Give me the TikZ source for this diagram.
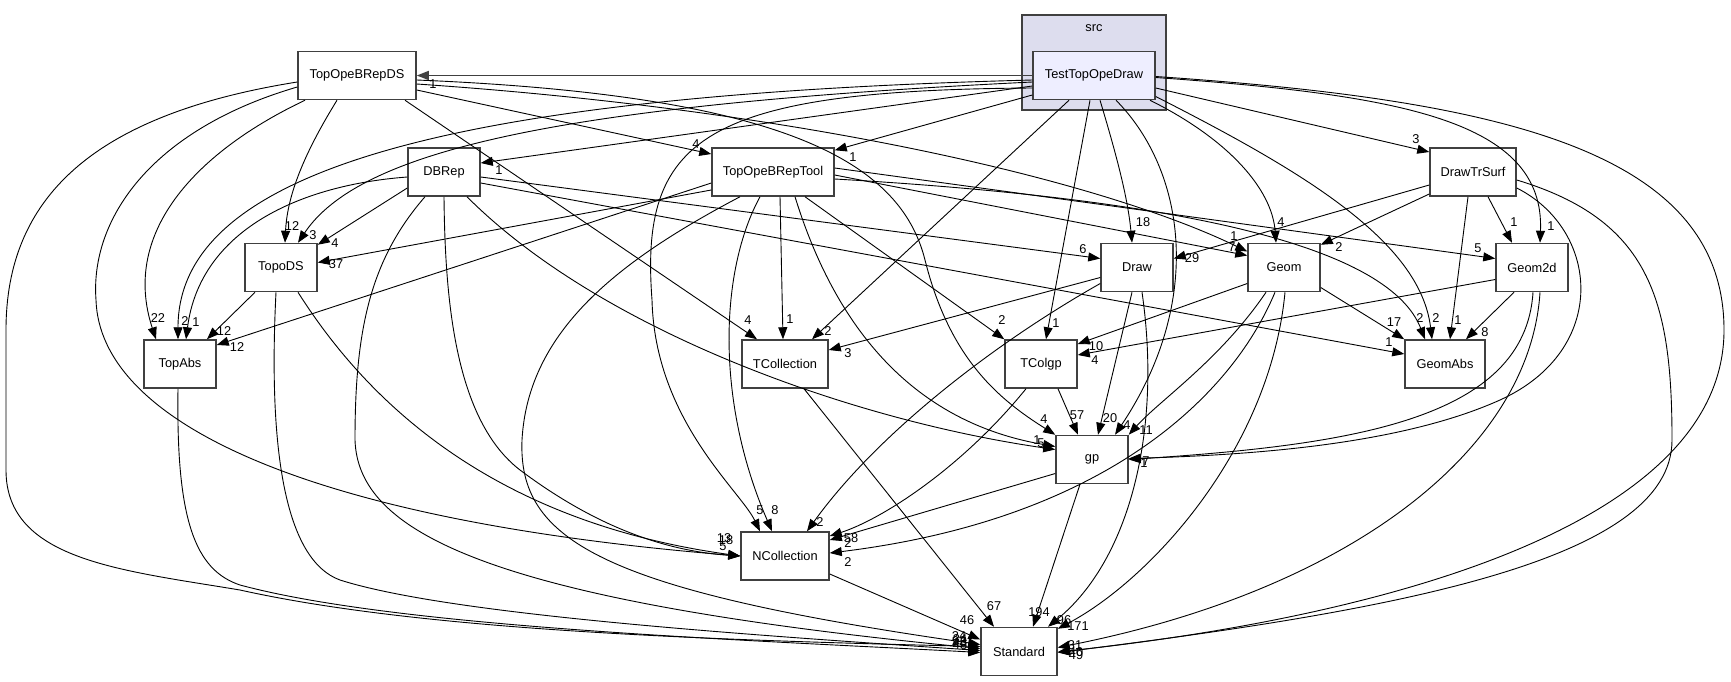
\documentclass[tikz,border=0pt]{standalone}
\usepackage{fontspec}
\setmainfont{Liberation Sans}
\usetikzlibrary{arrows.meta}
\definecolor{boxLine}{HTML}{404040}
\definecolor{clusterFill}{HTML}{DDDDEE}
\definecolor{dirFill}{HTML}{EEEEFF}

\begin{document}
\begin{tikzpicture}
[x=1pt,y=-1pt,%
  dirNode/.style={shape=rectangle,draw=boxLine,line width=1.5pt,fill=white,minimum width=72pt,minimum height=48pt,inner sep=2pt,font=\fontsize{12.8}{14}\selectfont},%
  depEdge/.style={-{Triangle[length=12pt,width=9pt]},line width=0.9pt},%
  edgeLabel/.style={inner sep=0pt,font=\fontsize{12.8}{14}\selectfont}]
\path[fill=white] (0,0) rectangle (1731,681);
\useasboundingbox (0,0) rectangle (1731,681);
%% cluster
\node[draw=boxLine,line width=1.5pt,fill=clusterFill,minimum width=144pt,minimum height=95pt] (srcBox) at (1094,62.5) {};
\node[edgeLabel] (srcLabel) at (1094,28) {src};
%% nodes
\node[dirNode,fill=dirFill,minimum width=122pt] (T) at (1094,75.5) {TestTopOpeDraw};
\node[dirNode,minimum width=118pt] (DS) at (357,75.5) {TopOpeBRepDS};
\node[dirNode] (DBRep) at (444,172) {DBRep};
\node[dirNode,minimum width=122pt] (Tool) at (773,172) {TopOpeBRepTool};
\node[dirNode,minimum width=86pt] (DTS) at (1473,172) {DrawTrSurf};
\node[dirNode] (TDS) at (281,267.5) {TopoDS};
\node[dirNode] (Draw) at (1137,267.5) {Draw};
\node[dirNode] (Geom) at (1284,267.5) {Geom};
\node[dirNode] (G2d) at (1532,267.5) {Geom2d};
\node[dirNode] (TA) at (180,364) {TopAbs};
\node[dirNode,minimum width=86pt] (TCol) at (785,364) {TCollection};
\node[dirNode] (TCgp) at (1041,364) {TColgp};
\node[dirNode,minimum width=80pt] (GA) at (1445,364) {GeomAbs};
\node[dirNode] (gp) at (1092,459.5) {gp};
\node[dirNode,minimum width=88pt] (NCol) at (785,556) {NCollection};
\node[dirNode,minimum width=76pt] (Std) at (1019,651.5) {Standard};
%% edges from TestTopOpeDraw
\draw[depEdge,draw=boxLine,line width=1.6pt] (T.west) -- (DS.east);
\draw[depEdge] ([yshift=-10.5pt]T.west) -- ([yshift=9pt]DBRep.east);
\draw[depEdge] ([yshift=-19.5pt]T.west) -- ([yshift=-3pt]Tool.north east);
\draw[depEdge] ([yshift=-12.5pt]T.east) -- ([yshift=20pt]DTS.west);
\draw[depEdge] ([yshift=-6.5pt]T.west) .. controls (560,105) and (360,150) .. ([xshift=17pt]TDS.north);
\draw[depEdge] ([yshift=-4.5pt]T.west) .. controls (450,95) and (178,170) .. ([xshift=-2pt]TA.north);
\draw[depEdge] ([yshift=-12.5pt]T.west) .. controls (700,90) and (640,140) .. (652,300) .. controls (655,420) and (740,490) .. ([xshift=-25pt]NCol.north);
\draw[depEdge] ([xshift=-25pt]T.south) -- ([xshift=27pt]TCol.north);
\draw[depEdge] ([xshift=-4pt]T.south) -- ([xshift=5pt]TCgp.north);
\draw[depEdge] ([xshift=6pt]T.south) .. controls (1118,160) and (1128,200) .. ([xshift=-5pt]Draw.north);
\draw[depEdge] ([xshift=22pt]T.south) .. controls (1185,170) and (1205,300) .. ([xshift=23pt]gp.north);
\draw[depEdge] ([xshift=56pt]T.south) .. controls (1230,140) and (1272,190) .. ([xshift=-8pt]Geom.north);
\draw[depEdge] ([yshift=-21pt]T.east) .. controls (1300,170) and (1420,240) .. ([xshift=-13pt]GA.north);
\draw[depEdge] ([yshift=-2pt]T.east) .. controls (1400,95) and (1545,120) .. ([xshift=8pt]G2d.north);
\draw[depEdge] ([yshift=-1pt]T.east) .. controls (1500,100) and (1724,150) .. (1724,330) .. controls (1724,520) and (1400,615) .. ([yshift=-0.5pt]Std.east);
%% edges from TopOpeBRepDS
\draw[depEdge] ([xshift=-20pt]DS.south) .. controls (300,160) and (287,200) .. ([xshift=4pt]TDS.north);
\draw[depEdge] ([xshift=-52pt]DS.south) .. controls (200,150) and (120,230) .. ([xshift=-24pt]TA.north);
\draw[depEdge] ([yshift=-11.5pt]DS.west) .. controls (150,130) and (90,220) .. (96,300) .. controls (100,420) and (300,520) .. (NCol.west);
\draw[depEdge] ([yshift=-6.5pt]DS.west) .. controls (90,115) and (6,200) .. (6,330) -- (6,470) .. controls (6,560) and (120,570) .. (240,590) .. controls (420,630) and (700,640) .. ([yshift=5pt]Std.west);
\draw[depEdge] ([yshift=-14.5pt]DS.east) -- ([yshift=18pt]Tool.west);
\draw[depEdge] ([xshift=48pt]DS.south) -- ([xshift=-28pt]TCol.north);
\draw[depEdge] ([yshift=-4.5pt]DS.east) .. controls (780,95) and (900,160) .. (925,260) .. controls (950,360) and (1000,400) .. (gp.north west);
\draw[depEdge] ([yshift=-8.5pt]DS.east) .. controls (800,110) and (1100,180) .. ([yshift=16pt]Geom.west);
%% edges from DBRep
\draw[depEdge] ([yshift=-16pt]DBRep.west) -- ([yshift=-2pt]TDS.north east);
\draw[depEdge] ([yshift=-5pt]DBRep.west) .. controls (300,185) and (200,230) .. ([xshift=6pt]TA.north);
\draw[depEdge] (DBRep.south) .. controls (445,300) and (455,420) .. (520,470) .. controls (580,515) and (650,550) .. (NCol.west);
\draw[depEdge] ([xshift=-19pt]DBRep.south) .. controls (370,260) and (355,330) .. (355,440) .. controls (358,530) and (480,600) .. ([yshift=3pt]Std.west);
\draw[depEdge] ([xshift=23pt]DBRep.south) .. controls (600,330) and (850,420) .. ([yshift=10pt]gp.west);
\draw[depEdge] ([yshift=-5pt]DBRep.east) -- ([yshift=9pt]Draw.west);
\draw[depEdge] ([yshift=-11pt]DBRep.east) -- ([yshift=10pt]GA.west);
%% edges from TopOpeBRepTool
\draw[depEdge] ([yshift=-18pt]Tool.west) -- ([yshift=5pt]TDS.east);
\draw[depEdge] ([yshift=-11pt]Tool.west) -- ([yshift=19pt]TA.east);
\draw[depEdge] ([xshift=7pt]Tool.south) -- ([xshift=-2pt]TCol.north);
\draw[depEdge] ([xshift=-13pt]Tool.south) .. controls (720,270) and (715,400) .. ([xshift=-13pt]NCol.north);
\draw[depEdge] ([xshift=-33pt]Tool.south) .. controls (620,260) and (528,330) .. (522,440) .. controls (518,540) and (600,590) .. ([yshift=7pt]Std.west);
\draw[depEdge] ([xshift=22pt]Tool.south) .. controls (830,310) and (900,420) .. ([yshift=13pt]gp.west);
\draw[depEdge] ([xshift=32pt]Tool.south) -- (TCgp.north west);
\draw[depEdge] ([yshift=-3pt]Tool.east) -- ([yshift=12pt]Geom.west);
\draw[depEdge] ([yshift=4pt]Tool.east) -- ([yshift=9pt]G2d.west);
\draw[depEdge] ([yshift=-7pt]Tool.east) .. controls (1200,200) and (1390,250) .. ([xshift=-20pt]GA.north);
%% edges from DrawTrSurf
\draw[depEdge] ([yshift=-13pt]DTS.west) -- ([yshift=9pt]Draw.east);
\draw[depEdge] ([yshift=-22pt]DTS.west) -- ([yshift=-2pt]Geom.north east);
\draw[depEdge] ([xshift=15pt]DTS.south) -- ([xshift=-20pt]G2d.north);
\draw[depEdge] ([xshift=-5pt]DTS.south) -- ([xshift=5pt]GA.north);
\draw[depEdge] ([yshift=-16pt]DTS.east) .. controls (1600,230) and (1610,350) .. (1500,400) .. controls (1400,445) and (1250,455) .. ([yshift=1pt]gp.east);
\draw[depEdge] ([yshift=-8pt]DTS.east) .. controls (1650,220) and (1672,300) .. (1672,440) .. controls (1672,560) and (1400,610) .. ([yshift=-1pt]Std.east);
%% edges from TopoDS and TopAbs
\draw[depEdge] ([xshift=-26pt]TDS.south) -- ([xshift=27pt]TA.north);
\draw[depEdge] ([xshift=17pt]TDS.south) .. controls (360,390) and (480,520) .. (NCol.west);
\draw[depEdge] ([xshift=-5pt]TDS.south) .. controls (268,450) and (285,560) .. (340,580) .. controls (450,615) and (750,635) .. ([yshift=1pt]Std.west);
\draw[depEdge] ([xshift=-2pt]TA.south) .. controls (176,520) and (195,570) .. (240,585) .. controls (400,628) and (750,640) .. ([yshift=-1pt]Std.west);
%% edges from Draw
\draw[depEdge] ([yshift=-10pt]Draw.west) -- ([yshift=14pt]TCol.east);
\draw[depEdge] ([yshift=-16pt]Draw.west) .. controls (1000,340) and (880,430) .. ([xshift=22pt]NCol.north);
\draw[depEdge] ([xshift=-5pt]Draw.south) -- ([xshift=6pt]gp.north);
\draw[depEdge] ([xshift=5pt]Draw.south) .. controls (1162,430) and (1130,560) .. ([xshift=29pt]Std.north);
%% edges from Geom
\draw[depEdge] ([yshift=-16pt]Geom.west) -- ([yshift=20pt]TCgp.east);
\draw[depEdge] ([yshift=-20pt]Geom.east) -- (GA.north west);
\draw[depEdge] ([xshift=-18pt]Geom.south) .. controls (1220,360) and (1160,400) .. (gp.north east);
\draw[depEdge] ([xshift=-9pt]Geom.south) .. controls (1230,400) and (1100,520) .. ([yshift=3pt]NCol.east);
\draw[depEdge] ([xshift=1pt]Geom.south) .. controls (1270,450) and (1150,580) .. ([yshift=-2pt]Std.north east);
%% edges from Geom2d
\draw[depEdge] ([yshift=-12pt]G2d.west) -- ([yshift=9pt]TCgp.east);
\draw[depEdge] ([xshift=-18pt]G2d.south) -- ([xshift=21pt]GA.north);
\draw[depEdge] ([xshift=1pt]G2d.south) .. controls (1525,420) and (1350,445) .. (gp.east);
\draw[depEdge] ([xshift=8pt]G2d.south) .. controls (1530,450) and (1350,590) .. ([yshift=4pt]Std.east);
%% remaining edges
\draw[depEdge] ([xshift=19pt]TCol.south) -- ([xshift=-25pt]Std.north);
\draw[depEdge] ([xshift=17pt]TCgp.south) -- ([xshift=-14pt]gp.north);
\draw[depEdge] ([xshift=-15pt]TCgp.south) .. controls (960,470) and (880,520) .. ([yshift=20pt]NCol.east);
\draw[depEdge] ([yshift=-14pt]gp.west) -- ([yshift=16pt]NCol.east);
\draw[depEdge] ([xshift=-12pt]gp.south) -- ([xshift=14pt]Std.north);
\draw[depEdge] ([yshift=-18pt]NCol.east) -- ([yshift=12pt]Std.west);
%% edge labels
\foreach \txt/\x/\y [count=\i] in {
  1/433/84, 1/499/170, 1/853/157, 3/1416/139, 3/313/235, 2/185/321, 5/760/510,
  2/828/331, 1/1056/323, 18/1143/222, 4/1127/425, 4/1281/222, 2/1436/318,
  1/1551/226, 49/1076/655, 12/292/226, 22/158/318, 13/724/538, 24/959/636,
  4/696/144, 4/748/320, 4/1044/419, 1/1234/236, 4/335/243, 1/196/322,
  18/726/540, 34/960/639, 1/1037/440, 6/1083/249, 1/1389/342, 37/336/264,
  12/237/347, 1/790/319, 8/775/510, 43/960/642, 5/1041/443, 2/1002/320,
  7/1232/247, 5/1478/248, 2/1420/318, 29/1192/258, 2/1339/247, 1/1514/222,
  1/1458/320, 1/1144/463, 40/1076/652, 12/224/331, 5/723/546, 48/960/645,
  22/959/641, 3/848/353, 2/820/522, 20/1110/418, 96/1064/620, 10/1096/346,
  17/1394/322, 11/1146/430, 2/848/562, 171/1078/626, 4/1095/360, 8/1485/332,
  7/1146/461, 31/1075/645, 67/994/606, 57/1077/415, 2/848/543, 58/851/538,
  194/1039/612, 46/967/620}
  \node[edgeLabel] (lab\i) at (\x,\y) {\txt};
\end{tikzpicture}
\end{document}
